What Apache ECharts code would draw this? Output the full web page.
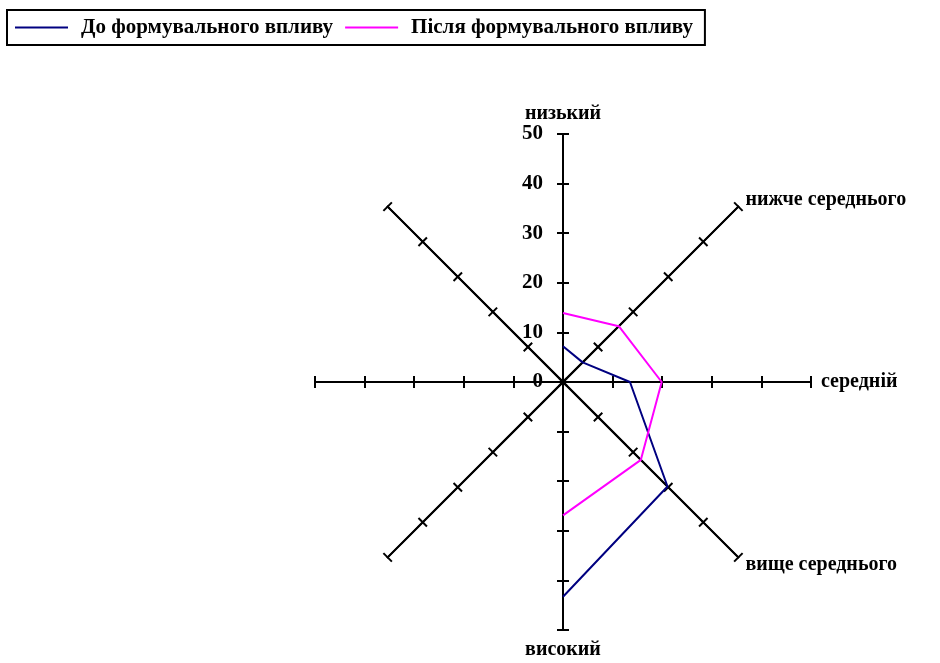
<!DOCTYPE html>
<html>
<head>
<meta charset="utf-8">
<script src="https://cdn.jsdelivr.net/npm/echarts@6/dist/echarts.min.js"></script>
<style>
  html, body { margin: 0; padding: 0; background: #fff; }
  #chart { width: 940px; height: 663px; }
</style>
</head>
<body>
<div id="chart"></div>
<script>
// categories clockwise from the top; last three spokes carry no label and no data
var categories = ['низький', 'нижче середнього', 'середній', 'вище середнього', 'високий', '', '', '']
var seriesNames = ['До формувального впливу', 'Після формувального впливу']
var beforeValues = [7.2, 5.6, 13.5, 29.8, 43.3]
var afterValues = [13.9, 15.9, 19.9, 22.2, 26.9]
var axisMax = 50

var font = 'Liberation Serif'
var center = [563, 382]
var radius = 248
var step = 360 / categories.length

// radar goes counter-clockwise, so reverse everything after the first spoke
var radarOrder = [categories[0]].concat(categories.slice(1).reverse())
var indicators = radarOrder.map(function (name) {
  return { name: name, min: 0, max: axisMax }
})

// two stacked radars: one draws ticks on each side of the spokes
function radarBase(tickLen, showName) {
  return {
    center: center,
    radius: radius,
    startAngle: 90,
    splitNumber: 5,
    shape: 'polygon',
    indicator: indicators,
    axisName: {
      show: showName,
      color: '#000',
      fontFamily: font,
      fontWeight: 'bold',
      fontSize: 20
    },
    nameGap: 10,
    axisLine: { lineStyle: { color: '#000', width: 2 } },
    axisTick: { show: true, length: tickLen, lineStyle: { color: '#000', width: 2 } },
    axisLabel: { show: false },
    splitLine: { show: false },
    splitArea: { show: false }
  }
}

function toPolar(values) {
  return values.map(function (v, i) { return [v, i * step] })
}

var chart = echarts.init(document.getElementById('chart'))
chart.setOption({
  animation: false,
  legend: {
    left: 7,
    top: 10,
    data: seriesNames,
    icon: 'rect',
    itemWidth: 53,
    itemHeight: 2,
    itemGap: 12,
    borderColor: '#000',
    borderWidth: 2,
    padding: [7, 12, 7, 8],
    textStyle: {
      fontFamily: font,
      fontWeight: 'bold',
      fontSize: 21,
      color: '#000',
      padding: [0, 0, 0, 8]
    }
  },
  radar: [radarBase(6, true), radarBase(-6, false)],
  polar: { center: center, radius: radius },
  angleAxis: {
    type: 'value',
    min: 0,
    max: 360,
    startAngle: 90,
    clockwise: true,
    show: false
  },
  radiusAxis: {
    type: 'value',
    min: 0,
    max: axisMax,
    interval: 10,
    axisLine: { show: false },
    axisTick: { show: false },
    splitLine: { show: false },
    axisLabel: {
      color: '#000',
      fontFamily: font,
      fontWeight: 'bold',
      fontSize: 21,
      margin: 20
    }
  },
  series: [
    {
      name: seriesNames[0],
      type: 'line',
      coordinateSystem: 'polar',
      symbol: 'none',
      lineStyle: { color: '#000080', width: 2 },
      itemStyle: { color: '#000080' },
      data: toPolar(beforeValues)
    },
    {
      name: seriesNames[1],
      type: 'line',
      coordinateSystem: 'polar',
      symbol: 'none',
      lineStyle: { color: '#ff00ff', width: 2 },
      itemStyle: { color: '#ff00ff' },
      data: toPolar(afterValues)
    }
  ]
})
</script>
</body>
</html>
